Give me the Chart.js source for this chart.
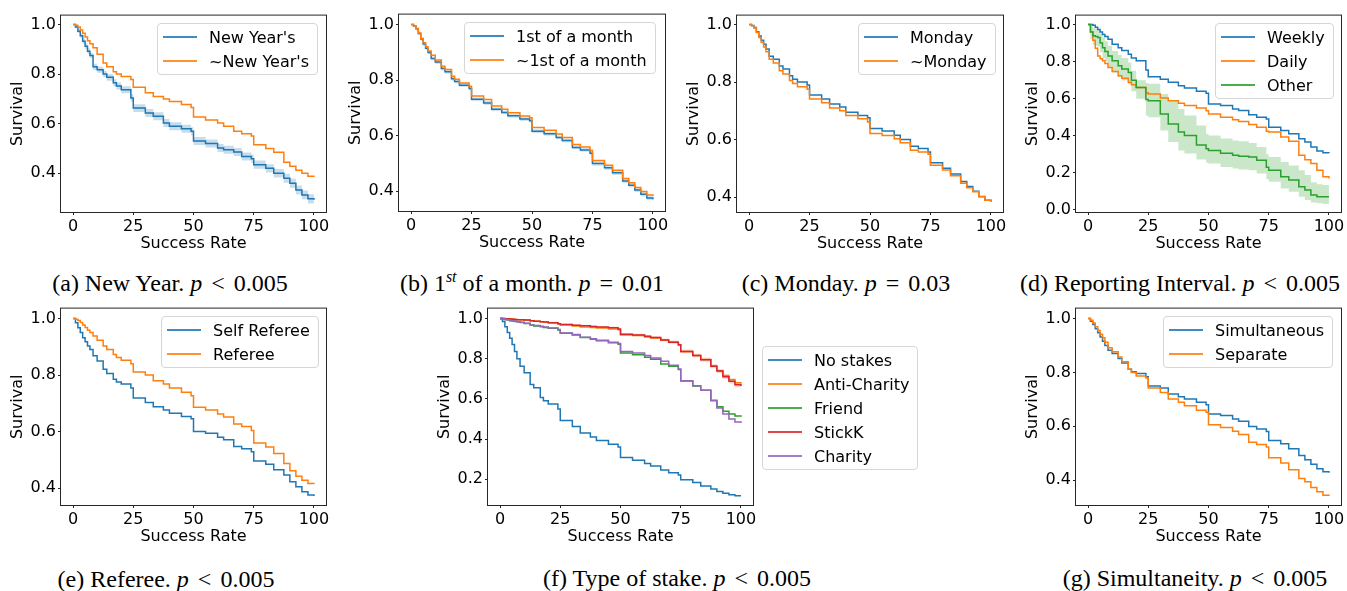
<!DOCTYPE html>
<html>
<head>
<meta charset="utf-8">
<script src="https://cdn.jsdelivr.net/npm/chart.js@4.4.1/dist/chart.umd.min.js"></script>
<style>
  body { margin: 0; background: #fff; width: 1347px; height: 591px; position: relative; overflow: hidden; }
  canvas { position: absolute; }
  .legend { position: absolute; box-sizing: border-box; border: 1px solid #d6d6d6; border-radius: 4px;
            background: rgba(255,255,255,0.8); font: 16px "DejaVu Sans", sans-serif; color: #000; padding: 1px 8px 0 0; }
  .legend .row { height: 24px; display: flex; align-items: center; white-space: nowrap; }
  .legend .swatch { display: inline-block; width: 34px; height: 1.5px; margin: 0 12px 0 5px; opacity: 0.85; }
  .caption { position: absolute; width: 440px; text-align: center; font: 24px "Liberation Serif", serif;
             color: #000; white-space: nowrap; line-height: 26px; }
  .caption .rel { margin: 0 9px; }
</style>
</head>
<body>
<script>
const rates = [0, 1, 2, 3, 4, 5, 6, 7, 8.3, 10, 12.5, 14, 16.7, 18, 20, 24, 25, 30, 33.3, 37.5, 40, 45, 49, 50, 55, 60, 62.5, 66.7, 70, 74, 75, 80, 83.3, 87.5, 90, 92.5, 95, 97.5, 100];
const rateTicks = [0, 25, 50, 75, 100];

// (a) New Year
const newYear    = [1.0, 0.99, 0.973, 0.955, 0.933, 0.912, 0.892, 0.875, 0.83, 0.818, 0.80, 0.787, 0.765, 0.752, 0.737, 0.704, 0.663, 0.643, 0.63, 0.603, 0.59, 0.58, 0.57, 0.53, 0.52, 0.502, 0.495, 0.486, 0.468, 0.459, 0.435, 0.42, 0.40, 0.38, 0.36, 0.333, 0.313, 0.297, 0.293];
const newYearHi  = [1.0, 0.995, 0.98, 0.963, 0.943, 0.923, 0.903, 0.885, 0.842, 0.83, 0.813, 0.801, 0.779, 0.766, 0.751, 0.719, 0.679, 0.659, 0.646, 0.619, 0.606, 0.596, 0.586, 0.546, 0.536, 0.518, 0.511, 0.502, 0.484, 0.476, 0.452, 0.437, 0.417, 0.398, 0.378, 0.351, 0.331, 0.316, 0.312];
const newYearLo  = [1.0, 0.985, 0.966, 0.947, 0.923, 0.901, 0.881, 0.865, 0.818, 0.806, 0.787, 0.773, 0.751, 0.738, 0.723, 0.689, 0.647, 0.627, 0.614, 0.587, 0.574, 0.564, 0.554, 0.514, 0.504, 0.486, 0.479, 0.47, 0.452, 0.442, 0.418, 0.403, 0.383, 0.362, 0.342, 0.315, 0.295, 0.278, 0.274];
const notNewYear = [1.0, 0.997, 0.99, 0.978, 0.965, 0.95, 0.935, 0.922, 0.906, 0.88, 0.845, 0.83, 0.81, 0.80, 0.79, 0.778, 0.747, 0.725, 0.71, 0.70, 0.69, 0.677, 0.665, 0.627, 0.615, 0.603, 0.59, 0.57, 0.56, 0.55, 0.515, 0.50, 0.485, 0.445, 0.428, 0.412, 0.40, 0.388, 0.385];

// (b) 1st of a month
const firstMonth    = [1.0, 0.995, 0.985, 0.968, 0.948, 0.93, 0.915, 0.90, 0.878, 0.865, 0.842, 0.83, 0.805, 0.795, 0.782, 0.77, 0.731, 0.718, 0.695, 0.684, 0.672, 0.66, 0.654, 0.616, 0.607, 0.594, 0.583, 0.558, 0.549, 0.537, 0.50, 0.485, 0.467, 0.437, 0.422, 0.405, 0.389, 0.376, 0.371];
const firstMonthHi  = [1.0, 0.998, 0.99, 0.975, 0.955, 0.937, 0.922, 0.907, 0.885, 0.872, 0.849, 0.837, 0.812, 0.802, 0.789, 0.777, 0.738, 0.725, 0.702, 0.691, 0.679, 0.667, 0.661, 0.623, 0.614, 0.601, 0.59, 0.565, 0.556, 0.544, 0.508, 0.493, 0.475, 0.445, 0.43, 0.413, 0.397, 0.384, 0.379];
const firstMonthLo  = [1.0, 0.992, 0.98, 0.961, 0.941, 0.923, 0.908, 0.893, 0.871, 0.858, 0.835, 0.823, 0.798, 0.788, 0.775, 0.763, 0.724, 0.711, 0.688, 0.677, 0.665, 0.653, 0.647, 0.609, 0.60, 0.587, 0.576, 0.551, 0.542, 0.53, 0.492, 0.477, 0.459, 0.429, 0.414, 0.397, 0.381, 0.368, 0.363];
const notFirstMonth = [1.0, 0.995, 0.986, 0.97, 0.95, 0.935, 0.92, 0.905, 0.89, 0.873, 0.85, 0.838, 0.814, 0.803, 0.79, 0.778, 0.743, 0.73, 0.707, 0.695, 0.683, 0.671, 0.665, 0.63, 0.62, 0.606, 0.594, 0.568, 0.559, 0.547, 0.511, 0.494, 0.476, 0.446, 0.431, 0.414, 0.399, 0.387, 0.383];

// (c) Monday
const monday    = [1.0, 0.997, 0.99, 0.975, 0.96, 0.945, 0.931, 0.915, 0.89, 0.879, 0.856, 0.845, 0.822, 0.81, 0.80, 0.79, 0.755, 0.741, 0.724, 0.713, 0.695, 0.684, 0.676, 0.638, 0.63, 0.615, 0.60, 0.577, 0.569, 0.557, 0.519, 0.50, 0.48, 0.454, 0.437, 0.42, 0.402, 0.389, 0.384];
const notMonday = [1.0, 0.996, 0.988, 0.972, 0.955, 0.938, 0.922, 0.905, 0.879, 0.866, 0.839, 0.828, 0.805, 0.795, 0.784, 0.775, 0.741, 0.728, 0.71, 0.70, 0.684, 0.672, 0.661, 0.621, 0.614, 0.603, 0.589, 0.563, 0.557, 0.549, 0.511, 0.494, 0.474, 0.448, 0.432, 0.418, 0.401, 0.389, 0.383];

// (d) Reporting interval
const weekly  = [1.0, 1.0, 0.996, 0.985, 0.973, 0.96, 0.946, 0.935, 0.92, 0.893, 0.875, 0.86, 0.839, 0.82, 0.804, 0.755, 0.718, 0.705, 0.688, 0.67, 0.657, 0.64, 0.629, 0.571, 0.563, 0.545, 0.536, 0.514, 0.50, 0.491, 0.446, 0.429, 0.411, 0.384, 0.366, 0.339, 0.318, 0.309, 0.307];
const daily   = [1.0, 0.96, 0.915, 0.872, 0.83, 0.815, 0.804, 0.79, 0.768, 0.746, 0.723, 0.71, 0.688, 0.675, 0.66, 0.632, 0.625, 0.604, 0.589, 0.575, 0.563, 0.55, 0.535, 0.518, 0.50, 0.486, 0.477, 0.461, 0.446, 0.425, 0.42, 0.393, 0.371, 0.295, 0.271, 0.25, 0.214, 0.179, 0.17];
const other   = [1.0, 0.96, 0.94, 0.935, 0.93, 0.90, 0.875, 0.855, 0.83, 0.804, 0.777, 0.76, 0.741, 0.70, 0.66, 0.595, 0.589, 0.518, 0.464, 0.42, 0.402, 0.35, 0.33, 0.321, 0.306, 0.295, 0.289, 0.286, 0.268, 0.23, 0.214, 0.179, 0.161, 0.125, 0.107, 0.08, 0.071, 0.071, 0.071];
const otherHi = [1.0, 0.99, 0.98, 0.978, 0.975, 0.95, 0.93, 0.91, 0.885, 0.857, 0.835, 0.82, 0.795, 0.75, 0.70, 0.685, 0.68, 0.625, 0.589, 0.545, 0.51, 0.455, 0.41, 0.402, 0.385, 0.375, 0.37, 0.361, 0.339, 0.30, 0.286, 0.259, 0.24, 0.214, 0.188, 0.15, 0.139, 0.134, 0.134];
const otherLo = [1.0, 0.92, 0.89, 0.885, 0.88, 0.85, 0.82, 0.80, 0.77, 0.741, 0.715, 0.70, 0.679, 0.64, 0.60, 0.51, 0.50, 0.429, 0.366, 0.32, 0.304, 0.272, 0.255, 0.25, 0.232, 0.223, 0.218, 0.214, 0.196, 0.165, 0.152, 0.116, 0.098, 0.071, 0.054, 0.04, 0.036, 0.032, 0.032];

// (e) Referee
const selfReferee = [1.0, 0.985, 0.967, 0.95, 0.932, 0.918, 0.903, 0.89, 0.868, 0.85, 0.82, 0.805, 0.785, 0.775, 0.768, 0.754, 0.719, 0.703, 0.688, 0.676, 0.665, 0.653, 0.645, 0.60, 0.594, 0.58, 0.571, 0.547, 0.539, 0.528, 0.496, 0.484, 0.465, 0.446, 0.422, 0.405, 0.387, 0.375, 0.372];
const referee     = [1.0, 0.997, 0.993, 0.986, 0.977, 0.968, 0.958, 0.95, 0.938, 0.923, 0.903, 0.89, 0.873, 0.862, 0.852, 0.84, 0.811, 0.80, 0.78, 0.768, 0.754, 0.739, 0.727, 0.686, 0.676, 0.662, 0.651, 0.627, 0.618, 0.604, 0.559, 0.545, 0.522, 0.487, 0.461, 0.442, 0.428, 0.416, 0.414];

// (f) Type of stake
const noStakes    = [1.0, 0.985, 0.959, 0.93, 0.902, 0.87, 0.836, 0.80, 0.762, 0.73, 0.672, 0.655, 0.607, 0.59, 0.574, 0.549, 0.492, 0.462, 0.43, 0.41, 0.393, 0.374, 0.361, 0.308, 0.295, 0.279, 0.266, 0.246, 0.233, 0.221, 0.197, 0.184, 0.167, 0.151, 0.139, 0.131, 0.123, 0.118, 0.118];
const antiCharity = [1.0, 1.0, 0.999, 0.998, 0.997, 0.996, 0.995, 0.994, 0.993, 0.992, 0.988, 0.986, 0.984, 0.982, 0.979, 0.974, 0.968, 0.962, 0.958, 0.955, 0.952, 0.948, 0.944, 0.918, 0.915, 0.908, 0.903, 0.892, 0.881, 0.868, 0.836, 0.816, 0.796, 0.763, 0.74, 0.716, 0.696, 0.68, 0.675];
const friend      = [1.0, 0.998, 0.995, 0.992, 0.989, 0.987, 0.985, 0.983, 0.98, 0.975, 0.967, 0.963, 0.959, 0.955, 0.951, 0.943, 0.926, 0.918, 0.905, 0.897, 0.889, 0.879, 0.872, 0.828, 0.82, 0.807, 0.797, 0.774, 0.762, 0.746, 0.689, 0.664, 0.643, 0.593, 0.561, 0.538, 0.525, 0.515, 0.511];
const stickK      = [1.0, 1.0, 0.999, 0.998, 0.997, 0.996, 0.995, 0.994, 0.993, 0.992, 0.988, 0.986, 0.984, 0.982, 0.979, 0.974, 0.97, 0.966, 0.964, 0.96, 0.957, 0.954, 0.948, 0.921, 0.918, 0.911, 0.905, 0.893, 0.882, 0.869, 0.836, 0.816, 0.795, 0.762, 0.738, 0.71, 0.688, 0.67, 0.664];
const stickKHi    = [1.0, 1.0, 1.0, 0.999, 0.998, 0.998, 0.997, 0.996, 0.995, 0.994, 0.991, 0.989, 0.987, 0.985, 0.983, 0.978, 0.975, 0.971, 0.969, 0.965, 0.962, 0.959, 0.954, 0.927, 0.924, 0.918, 0.912, 0.90, 0.89, 0.877, 0.845, 0.825, 0.805, 0.772, 0.749, 0.721, 0.699, 0.682, 0.676];
const stickKLo    = [1.0, 0.999, 0.998, 0.997, 0.996, 0.995, 0.993, 0.992, 0.991, 0.99, 0.985, 0.983, 0.981, 0.978, 0.975, 0.97, 0.965, 0.961, 0.959, 0.955, 0.952, 0.949, 0.942, 0.915, 0.912, 0.904, 0.898, 0.886, 0.874, 0.861, 0.827, 0.807, 0.785, 0.752, 0.727, 0.699, 0.677, 0.658, 0.652];
const charity     = [1.0, 0.998, 0.995, 0.993, 0.99, 0.988, 0.986, 0.984, 0.981, 0.976, 0.968, 0.965, 0.961, 0.957, 0.953, 0.945, 0.928, 0.92, 0.907, 0.899, 0.891, 0.881, 0.875, 0.836, 0.828, 0.816, 0.803, 0.787, 0.767, 0.748, 0.69, 0.665, 0.643, 0.59, 0.554, 0.525, 0.50, 0.485, 0.48];

// (g) Simultaneity
const simultaneous = [1.0, 0.99, 0.978, 0.962, 0.947, 0.932, 0.916, 0.90, 0.882, 0.87, 0.852, 0.835, 0.812, 0.803, 0.796, 0.784, 0.75, 0.742, 0.72, 0.71, 0.701, 0.689, 0.68, 0.646, 0.64, 0.627, 0.619, 0.599, 0.59, 0.581, 0.547, 0.535, 0.517, 0.492, 0.476, 0.459, 0.443, 0.431, 0.428];
const separate     = [1.0, 0.994, 0.984, 0.97, 0.956, 0.942, 0.929, 0.912, 0.892, 0.877, 0.857, 0.84, 0.812, 0.80, 0.787, 0.779, 0.742, 0.726, 0.701, 0.689, 0.676, 0.66, 0.652, 0.606, 0.596, 0.582, 0.57, 0.541, 0.533, 0.523, 0.483, 0.464, 0.439, 0.406, 0.394, 0.373, 0.357, 0.344, 0.341];

const BLUE = "#1f77b4", ORANGE = "#ff7f0e", GREEN = "#2ca02c", RED = "#d62728", PURPLE = "#9467bd";

Chart.defaults.font.family = '"DejaVu Sans", sans-serif';
Chart.defaults.font.size = 16;
Chart.defaults.color = "#000";

const Y_AXIS_W = 53, X_AXIS_H = 41, PAD_TOP = 10, PAD_RIGHT = 10;

// axes box like matplotlib spines
const frame = {
    id: "frame",
    afterDatasetsDraw(chart) {
        const { ctx, chartArea: a } = chart;
        ctx.save();
        ctx.strokeStyle = "#262626";
        ctx.lineWidth = 1;
        ctx.strokeRect(a.left - 0.5, a.top - 0.5, a.width + 1, a.height + 1);
        ctx.restore();
    },
};

const pts = ys => rates.map((x, i) => ({ x, y: ys[i] }));

function line(label, ys, color, order) {
    return { label, data: pts(ys), borderColor: color, borderWidth: 1.5, pointRadius: 0, stepped: true, fill: false, order };
}

function band(hi, lo, fillColor) {
    return [
        { data: pts(hi), borderWidth: 0, pointRadius: 0, stepped: true, fill: false, order: 20 },
        { data: pts(lo), borderWidth: 0, pointRadius: 0, stepped: true, fill: "-1", backgroundColor: fillColor, order: 20 },
    ];
}

function panel(cfg) {
    const [l, t, r, b] = cfg.box;
    const canvas = document.createElement("canvas");
    canvas.width = (r - l) + Y_AXIS_W + PAD_RIGHT;
    canvas.height = (b - t) + PAD_TOP + X_AXIS_H;
    canvas.style.left = (l - Y_AXIS_W) + "px";
    canvas.style.top = (t - PAD_TOP) + "px";
    document.body.appendChild(canvas);

    const tickGrid = { drawOnChartArea: false, tickLength: 3, color: "#262626", lineWidth: 1 };

    new Chart(canvas, {
        type: "line",
        data: { datasets: cfg.datasets },
        options: {
            responsive: false,
            animation: false,
            layout: { padding: { left: 0, top: PAD_TOP, right: PAD_RIGHT, bottom: 0 } },
            plugins: { legend: { display: false }, tooltip: { enabled: false } },
            scales: {
                x: {
                    type: "linear", min: -5, max: 105,
                    afterBuildTicks: s => { s.ticks = rateTicks.map(v => ({ value: v })); },
                    afterFit: s => { s.height = X_AXIS_H; },
                    ticks: { padding: 2, maxRotation: 0, autoSkip: false, callback: v => String(v) },
                    grid: tickGrid,
                    border: { display: false },
                    title: { display: true, text: "Success Rate", padding: 0 },
                },
                y: {
                    min: cfg.yMin, max: cfg.yMax,
                    afterBuildTicks: s => { s.ticks = cfg.yTicks.map(v => ({ value: v })); },
                    afterFit: s => { s.width = Y_AXIS_W; },
                    ticks: { padding: 2, autoSkip: false, callback: v => v.toFixed(1) },
                    grid: tickGrid,
                    border: { display: false },
                    title: { display: true, text: "Survival", padding: 0 },
                },
            },
        },
        plugins: [frame],
    });

    // legend
    const lg = document.createElement("div");
    lg.className = "legend";
    lg.style.left = cfg.legend.left + "px";
    lg.style.top = cfg.legend.top + "px";
    lg.style.height = (28 + 24 * (cfg.legend.items.length - 1)) + "px";
    cfg.legend.items.forEach(([name, color]) => {
        const row = document.createElement("div");
        row.className = "row";
        row.innerHTML = `<span class="swatch" style="background:${color}"></span>${name}`;
        lg.appendChild(row);
    });
    document.body.appendChild(lg);

    // caption
    const cap = document.createElement("div");
    cap.className = "caption";
    cap.style.left = (cfg.caption.cx - 220) + "px";
    cap.style.top = (cfg.caption.cy - 13) + "px";
    cap.innerHTML = cfg.caption.html;
    document.body.appendChild(cap);
}

const lt = '<span class="rel">&lt;</span>', eq = '<span class="rel">=</span>';

panel({
    box: [61, 14, 326, 212], yMin: 0.244, yMax: 1.036, yTicks: [0.4, 0.6, 0.8, 1.0],
    datasets: [...band(newYearHi, newYearLo, "rgba(31,119,180,0.25)"),
               line("New Year's", newYear, BLUE, 10), line("~New Year's", notNewYear, ORANGE, 9)],
    legend: { left: 157, top: 23, items: [["New Year's", BLUE], ["~New Year's", ORANGE]] },
    caption: { cx: 170, cy: 283, html: `(a) New Year. <i>p</i>${lt}0.005` },
});

panel({
    box: [399, 13, 665, 211], yMin: 0.329, yMax: 1.036, yTicks: [0.4, 0.6, 0.8, 1.0],
    datasets: [...band(firstMonthHi, firstMonthLo, "rgba(31,119,180,0.2)"),
               line("1st of a month", firstMonth, BLUE, 10), line("~1st of a month", notFirstMonth, ORANGE, 9)],
    legend: { left: 464, top: 22, items: [["1st of a month", BLUE], ["~1st of a month", ORANGE]] },
    caption: { cx: 532, cy: 283, html: `(b) 1<sup style="font-size:16px;font-style:italic;vertical-align:9px;line-height:0">st</sup> of a month. <i>p</i>${eq}0.01` },
});

panel({
    box: [737, 14, 1003, 212], yMin: 0.348, yMax: 1.031, yTicks: [0.4, 0.6, 0.8, 1.0],
    datasets: [line("Monday", monday, BLUE, 10), line("~Monday", notMonday, ORANGE, 9)],
    legend: { left: 858, top: 23, items: [["Monday", BLUE], ["~Monday", ORANGE]] },
    caption: { cx: 846, cy: 283, html: `(c) Monday. <i>p</i>${eq}0.03` },
});

panel({
    box: [1076, 14, 1341, 212], yMin: -0.011, yMax: 1.048, yTicks: [0.0, 0.2, 0.4, 0.6, 0.8, 1.0],
    datasets: [...band(otherHi, otherLo, "rgba(44,160,44,0.25)"),
               line("Weekly", weekly, BLUE, 10), line("Daily", daily, ORANGE, 9), line("Other", other, GREEN, 8)],
    legend: { left: 1215, top: 23, items: [["Weekly", BLUE], ["Daily", ORANGE], ["Other", GREEN]] },
    caption: { cx: 1180, cy: 283, html: `(d) Reporting Interval. <i>p</i>${lt}0.005` },
});

panel({
    box: [61, 307, 326, 505], yMin: 0.34, yMax: 1.035, yTicks: [0.4, 0.6, 0.8, 1.0],
    datasets: [line("Self Referee", selfReferee, BLUE, 10), line("Referee", referee, ORANGE, 9)],
    legend: { left: 161, top: 316, items: [["Self Referee", BLUE], ["Referee", ORANGE]] },
    caption: { cx: 166, cy: 579, html: `(e) Referee. <i>p</i>${lt}0.005` },
});

panel({
    box: [488, 307, 753, 505], yMin: 0.072, yMax: 1.049, yTicks: [0.2, 0.4, 0.6, 0.8, 1.0],
    datasets: [...band(stickKHi, stickKLo, "rgba(214,39,40,0.2)"),
               line("No stakes", noStakes, BLUE, 10), line("Anti-Charity", antiCharity, ORANGE, 9),
               line("Friend", friend, GREEN, 8), line("StickK", stickK, RED, 7), line("Charity", charity, PURPLE, 6)],
    legend: { left: 762, top: 346, items: [["No stakes", BLUE], ["Anti-Charity", ORANGE], ["Friend", GREEN], ["StickK", RED], ["Charity", PURPLE]] },
    caption: { cx: 677, cy: 578, html: `(f) Type of stake. <i>p</i>${lt}0.005` },
});

panel({
    box: [1076, 307, 1341, 505], yMin: 0.308, yMax: 1.037, yTicks: [0.4, 0.6, 0.8, 1.0],
    datasets: [line("Simultaneous", simultaneous, BLUE, 10), line("Separate", separate, ORANGE, 9)],
    legend: { left: 1163, top: 316, items: [["Simultaneous", BLUE], ["Separate", ORANGE]] },
    caption: { cx: 1195, cy: 578, html: `(g) Simultaneity. <i>p</i>${lt}0.005` },
});
</script>
</body>
</html>
